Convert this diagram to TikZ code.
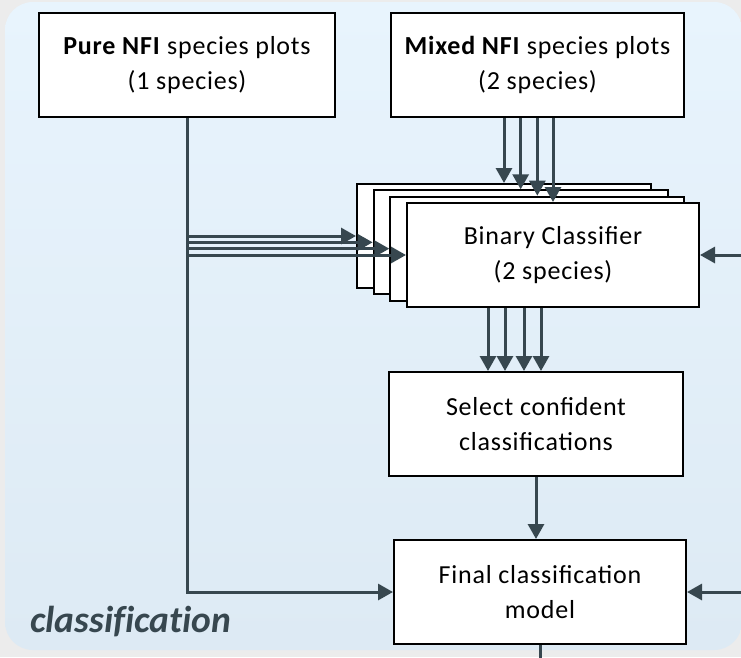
\documentclass[tikz,border=0pt]{standalone}
\usepackage{fontspec}
\setmainfont{Carlito}[Ligatures=NoCommon]
\newfontfamily\boxfont[LetterSpace=3]{Carlito}
\usepackage{tikz}
\usetikzlibrary{arrows.meta}
\definecolor{slate}{RGB}{55,71,79}
\definecolor{bgtop}{RGB}{232,244,253}
\definecolor{bgbot}{RGB}{221,234,244}
\definecolor{rim}{RGB}{236,236,236}

\begin{document}
\begin{tikzpicture}[
    x=1pt, y=-1pt,
    box/.style={draw, line width=2pt, fill=white, minimum width=294pt, minimum height=104pt, inner sep=0pt, align=center, font=\boxfont\fontsize{26}{35}\selectfont},
    arr/.style={-{Triangle[length=15pt,width=16pt]}, line width=3pt, draw=slate},
    wire/.style={line width=3pt, draw=slate}
  ]
  % page and panel
  \fill[rim] (0,0) rectangle (741,657);
  \useasboundingbox (0,0) rectangle (741,657);
  \shade[top color=bgtop, bottom color=bgbot, rounded corners=28pt] (5,2) rectangle (742,650);

  \node[box, minimum width=296pt] (pure) at (187,65) {\textbf{Pure NFI} species plots\\(1 species)};
  \node[box, minimum width=293pt] (mixed) at (537.5,65) {\textbf{Mixed NFI} species plots\\(2 species)};
  \foreach \i in {0,1,2}
    \node[box] (bc\i) at ({504+16.67*\i},{236+6.33*\i}) {};
  \node[box, minimum width=292pt] (bc3) at (553,255) {Binary Classifier\\(2 species)};
  \node[box] (select) at (536,424) {Select confident\\classifications};
  \node[box, minimum width=292pt] (final) at (540,592) {Final classification\\model};
  \node[anchor=base west, inner sep=0pt, text=slate, font=\fontsize{37.5}{42}\selectfont\bfseries\itshape] (tag) at (30,632) {classification};

  \coordinate (rimR) at (748,0);
  \coordinate (exit) at (540,670);

  \draw[arr] (pure.south) |- (final.west);
  \foreach \i in {0,...,3} {
    \draw[arr] (pure.south |- bc\i.west) -- (bc\i.west);
    \draw[arr] (bc\i.north |- mixed.south) -- (bc\i.north);
  }
  \foreach \dx in {-48,-31,-12,5}
    \draw[arr] ([xshift=\dx pt]select.north |- bc3.south) -- ([xshift=\dx pt]select.north);
  \draw[arr] (select.south) -- (select.south |- final.north);
  \draw[wire] (final.south) -- (exit);
  \draw[arr] (rimR |- bc3.east) -- (bc3.east);
  \draw[arr] (rimR |- final.east) -- (final.east);
\end{tikzpicture}
\end{document}
